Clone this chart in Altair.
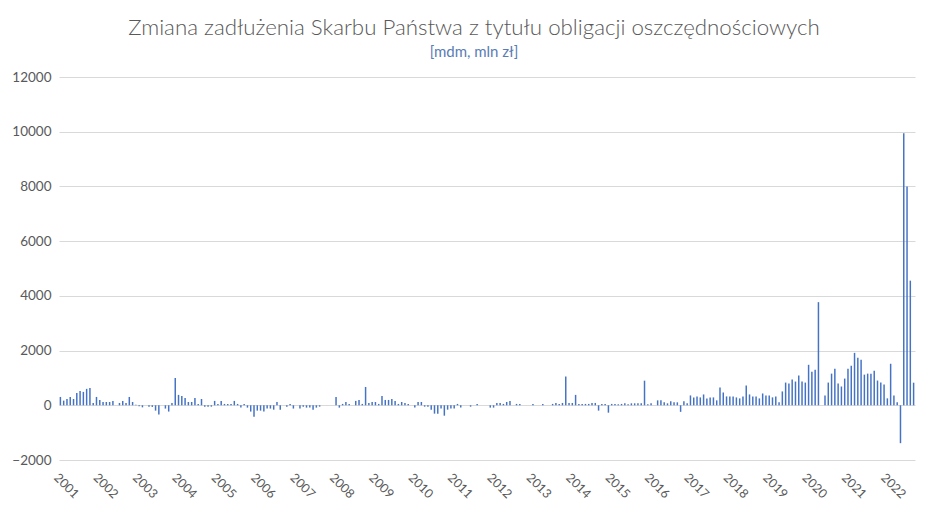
import altair as alt
import pandas as pd

# Monthly change, mln zł (Jan 2001 - Sep 2022)
y2001 = [305, 170, 230, 300, 230, 450, 525, 490, 600, 635, 85, 305]
y2002 = [195, 120, 120, 120, 160, 0, 85, 160, 85, 305, 120, 20]
y2003 = [-37, -75, 0, -50, -60, -195, -340, 0, -120, -230, 85, 1000]
y2004 = [380, 340, 270, 120, 120, 270, 50, 230, -50, -50, -50, 160]
y2005 = [50, 160, 50, 50, 50, 160, 50, -85, 50, -85, -230, -415]
y2006 = [-195, -195, -230, -120, -120, -160, 120, -160, 0, -50, 50, -120]
y2007 = [0, -120, -50, -85, -85, -160, -85, -50, 0, 0, 0, 0]
y2008 = [305, -85, 50, 120, 50, 0, 160, 195, 50, 670, 85, 120]
y2009 = [120, 50, 340, 195, 195, 230, 160, 50, 120, 85, 50, 0]
y2010 = [-85, 120, 120, -50, -50, -160, -305, -305, -120, -380, -160, -120]
y2011 = [-120, 50, -85, 0, 0, -50, 0, 50, 0, 0, 0, -85]
y2012 = [-85, 85, 85, 50, 120, 160, 0, 50, 50, 0, 0, 0]
y2013 = [50, 0, 0, 50, 0, 0, 50, 85, 50, 85, 1050, 85]
y2014 = [85, 380, 50, 50, 50, 50, 85, 85, -195, 50, 50, -270]
y2015 = [50, 50, 36, 50, 72, 36, 72, 72, 72, 72, 900, 36]
y2016 = [72, 0, 180, 180, 108, 72, 144, 108, 108, -240, 144, 72]
y2017 = [360, 288, 324, 288, 396, 252, 288, 288, 180, 648, 468, 324]
y2018 = [324, 324, 288, 252, 324, 720, 396, 324, 324, 252, 432, 360]
y2019 = [360, 290, 325, 108, 506, 830, 795, 940, 868, 1085, 868, 830]
y2020 = [1480, 1230, 1300, 3770, 0, 360, 830, 1157, 1340, 795, 687, 976]
y2021 = [1340, 1446, 1916, 1735, 1663, 1120, 1157, 1157, 1265, 904, 830, 760]
y2022 = [253, 1518, 360, 108, -1385, 9940, 7995, 4556, 826]

years = list(range(2001, 2023))
series = [y2001, y2002, y2003, y2004, y2005, y2006, y2007, y2008, y2009, y2010, y2011,
          y2012, y2013, y2014, y2015, y2016, y2017, y2018, y2019, y2020, y2021, y2022]

rows = []
for yr, vals in zip(years, series):
    for m, v in enumerate(vals, start=1):
        rows.append({"miesiac": f"{yr}-{m:02d}", "zmiana": v})
df = pd.DataFrame(rows)
order = list(df["miesiac"])
jan_ticks = [f"{yr}-01" for yr in years]

grey = "#595959"

chart = alt.Chart(df).mark_bar(color="#4472C4").encode(
    x=alt.X("miesiac:O", sort=order,
            scale=alt.Scale(paddingInner=0.55, paddingOuter=0.2),
            axis=alt.Axis(values=jan_ticks, labelExpr="slice(datum.value, 0, 4)",
                          labelAngle=45, labelAlign="left", labelBaseline="top",
                          labelPadding=11, ticks=False, domain=False, grid=False,
                          title=None, labelFont="Lato", labelFontSize=12.5,
                          labelColor=grey, labelOverlap=False)),
    y=alt.Y("zmiana:Q",
            scale=alt.Scale(domain=[-2000, 12000], nice=False, zero=False),
            axis=alt.Axis(values=list(range(-2000, 12001, 2000)), format="d",
                          ticks=False, domain=False, gridColor="#D9D9D9",
                          gridWidth=1, labelPadding=8, title=None,
                          labelFont="Lato", labelFontSize=13.5, labelColor=grey)),
).properties(
    width=856,
    height=383,
    padding={"left": 51, "top": 69, "right": 25, "bottom": 48},
    autosize=alt.AutoSizeParams(type="none"),
    title=alt.TitleParams(
        text="Zmiana zadłużenia Skarbu Państwa z tytułu obligacji oszczędnościowych",
        subtitle="[mdm, mln zł]",
        anchor="middle", frame="group", dx=-13, offset=10,
        font="Lato", fontSize=22.3, fontWeight=300, color=grey,
        subtitleFont="Lato", subtitleFontSize=15, subtitleColor="#5A7CB5",
        subtitlePadding=6,
    ),
).configure_view(stroke=None)

chart.save("out.html", embed_options={"renderer": "svg", "actions": False})
